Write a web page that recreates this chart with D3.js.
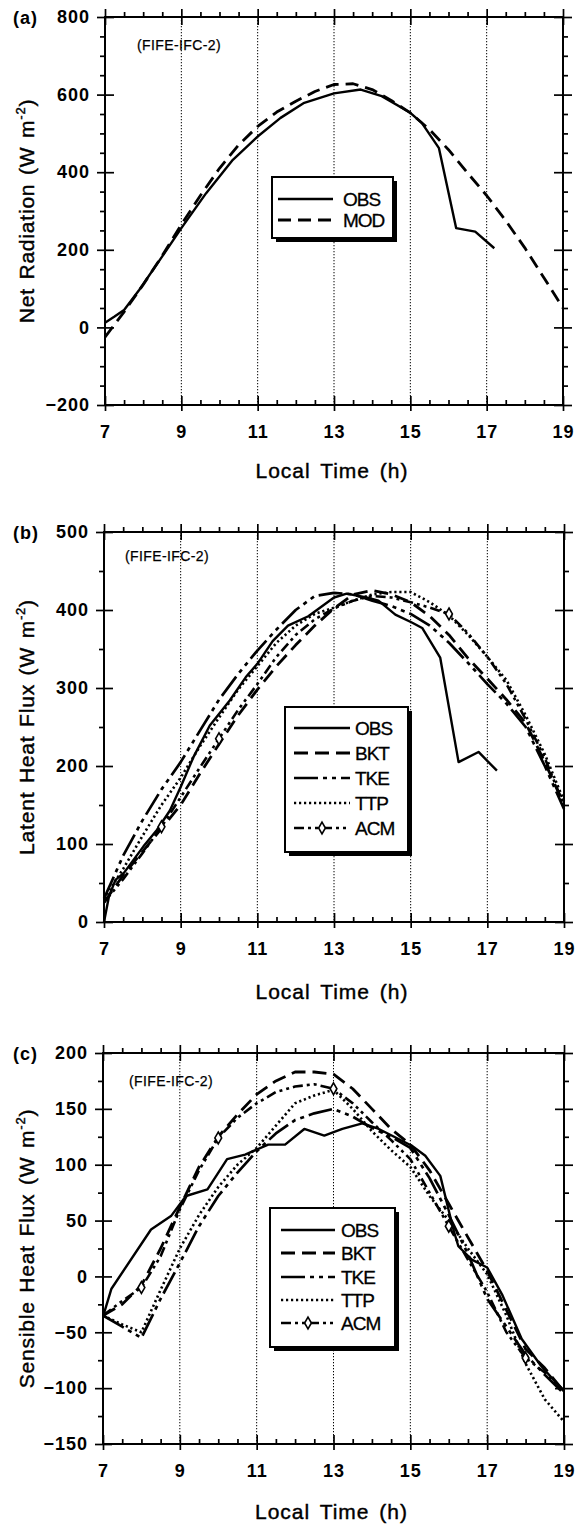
<!DOCTYPE html>
<html>
<head>
<meta charset="utf-8">
<script src="https://cdn.jsdelivr.net/npm/d3@7"></script>
<style>
  body { margin: 0; background: #fff; }
  text { font-family: "Liberation Sans", Arial, Helvetica, sans-serif; fill: #000; }
</style>
</head>
<body>
<svg id="fig" width="576" height="1524"></svg>
<script>
// ---- data ----
const halfHours = [7, 7.5, 8, 8.5, 9, 9.5, 10, 10.5, 11, 11.5, 12, 12.5, 13, 13.5, 14, 14.5, 15, 15.5, 16, 16.5, 17, 17.5, 18, 18.5, 19];
const hourTicks = [7, 9, 11, 13, 15, 17, 19];
const gridHours = [9, 11, 13, 15, 17];

// (a) net radiation
const netObsHours = [7, 7.25, 7.5, 7.9, 8.5, 9, 9.65, 10.35, 11, 11.6, 12.2, 13, 13.7, 14.25, 15, 15.3, 15.75, 16.2, 16.7, 17.2];
const netObs = [12, 28, 45, 97, 183, 256, 346, 432, 492, 540, 578, 603, 613, 596, 553, 527, 462, 256, 247, 204];
const netMod = [-25, 40, 110, 185, 265, 340, 410, 470, 518, 555, 583, 608, 626, 628, 613, 585, 553, 510, 458, 398, 340, 275, 205, 128, 50];

// (b) latent heat flux
const latObsHours = [7, 7.13, 7.3, 7.52, 8.03, 8.38, 8.72, 9, 9.33, 9.76, 10.28, 10.7, 11, 11.4, 11.8, 12.33, 13, 13.33, 13.85, 14.16, 14.6, 15.03, 15.3, 15.77, 16.25, 16.77, 17.25];
const latObs = [0, 33, 54, 63, 97, 118, 143, 173, 211, 252, 284, 314, 331, 360, 380, 392, 416, 421, 416, 412, 394, 384, 377, 339, 205, 218, 194];
const latBkt = [25, 60, 90, 120, 150, 190, 228, 265, 298, 328, 355, 380, 402, 420, 425, 420, 410, 392, 368, 338, 312, 285, 255, 205, 150];
const latTke = [30, 85, 130, 170, 205, 245, 285, 318, 348, 375, 400, 418, 422, 420, 412, 405, 395, 380, 358, 332, 305, 280, 250, 200, 145];
const latTtp = [30, 68, 110, 150, 185, 225, 262, 298, 328, 358, 380, 395, 403, 412, 420, 423, 423, 410, 393, 368, 340, 310, 265, 215, 155];
const latAcm = [25, 55, 88, 122, 160, 198, 235, 272, 305, 340, 368, 388, 402, 412, 418, 416, 410, 403, 395, 370, 340, 305, 260, 210, 150];
const latAcmMarks = [8.5, 10, 16];

// (c) sensible heat flux
const sensObsHours = [7, 7.22, 8.25, 8.77, 9.16, 9.72, 10.23, 10.7, 11.3, 11.74, 12.24, 12.76, 13.23, 13.75, 14.18, 15.04, 15.39, 15.78, 16.12, 16.25, 16.6, 17, 17.4, 17.9, 18.4, 19];
const sensObs = [-36, -11, 42, 54, 72, 78, 105, 109, 118, 118, 132, 126, 132, 137, 132, 117, 108, 90, 42, 27, 15, 8, -17, -56, -80, -103];
const sensBkt = [-35, -25, -8, 25, 62, 98, 125, 145, 163, 175, 183, 183, 181, 168, 150, 132, 118, 95, 65, 35, 5, -30, -65, -82, -103];
const sensTke = [-35, -45, -55, -20, 12, 45, 72, 93, 112, 128, 140, 146, 150, 143, 133, 125, 115, 88, 55, 20, -20, -45, -70, -88, -105];
const sensTtp = [-35, -43, -50, -12, 25, 55, 80, 100, 115, 135, 155, 162, 167, 150, 130, 113, 98, 72, 50, 25, 2, -35, -78, -110, -130];
const sensAcm = [-35, -22, -10, 18, 60, 95, 124, 142, 155, 165, 170, 172, 168, 155, 138, 122, 105, 75, 45, 15, -14, -50, -73, -86, -102];
const sensAcmMarks = [8, 10, 13, 16, 18];

// ---- line styles ----
const STYLE = {
  OBS: { dash: null, width: 2.4 },
  MOD: { dash: "13 7", width: 2.8 },
  BKT: { dash: "14 7", width: 2.8 },
  TKE: { dash: "24 5 4 5 4 5", width: 2.7 },
  TTP: { dash: "2.2 2.8", width: 2.6 },
  ACM: { dash: "10 4 3 4 3 4", width: 2.6 }
};

const zip = (hs, vs) => hs.map((h, i) => [h, vs[i]]);

const panels = [
  {
    tag: "(a)", yTitle: "Net Radiation", xRange: [105, 563], yRange: [405, 17],
    yDomain: [-200, 800], yStep: 200, yMinor: 50,
    titleBase: 478, fifeX: 137, fifeY: 50,
    series: [
      { name: "OBS", pts: zip(netObsHours, netObs) },
      { name: "MOD", pts: zip(halfHours, netMod) }
    ],
    legend: { x0: 272, x1: 393, y0: 177, y1: 238, rows: [199, 220], lx0: 278, lx1: 333, tx: 343 }
  },
  {
    tag: "(b)", yTitle: "Latent Heat Flux", xRange: [104, 564], yRange: [922, 532],
    yDomain: [0, 500], yStep: 100, yMinor: 50,
    titleBase: 999, fifeX: 125, fifeY: 561,
    series: [
      { name: "OBS", pts: zip(latObsHours, latObs) },
      { name: "BKT", pts: zip(halfHours, latBkt) },
      { name: "TKE", pts: zip(halfHours, latTke) },
      { name: "TTP", pts: zip(halfHours, latTtp) },
      { name: "ACM", pts: zip(halfHours, latAcm), marks: latAcmMarks }
    ],
    legend: { x0: 285, x1: 408, y0: 707, y1: 852, rows: [728, 753, 778, 803, 828], lx0: 294, lx1: 350, tx: 355 }
  },
  {
    tag: "(c)", yTitle: "Sensible Heat Flux", xRange: [103, 564], yRange: [1444, 1053],
    yDomain: [-150, 200], yStep: 50, yMinor: 25,
    titleBase: 1519, fifeX: 129, fifeY: 1086,
    series: [
      { name: "OBS", pts: zip(sensObsHours, sensObs) },
      { name: "BKT", pts: zip(halfHours, sensBkt) },
      { name: "TKE", pts: zip(halfHours, sensTke) },
      { name: "TTP", pts: zip(halfHours, sensTtp) },
      { name: "ACM", pts: zip(halfHours, sensAcm), marks: sensAcmMarks }
    ],
    legend: { x0: 270, x1: 395, y0: 1208, y1: 1347, rows: [1230, 1253, 1277, 1300, 1323], lx0: 281, lx1: 335, tx: 341 }
  }
];

const svg = d3.select("#fig");

function styleAxis(sel, withText) {
  sel.select(".domain").remove();
  sel.selectAll(".tick line").attr("stroke", "#000").attr("stroke-width", 1.7);
  if (!withText) sel.selectAll(".tick text").remove();
  else sel.selectAll(".tick text")
    .style("font-size", "18px").style("font-weight", "bold")
    .style("letter-spacing", "1px").attr("fill", "#000");
}

function drawPanel(p) {
  const g = svg.append("g");
  const x = d3.scaleLinear().domain([7, 19]).range(p.xRange);
  const y = d3.scaleLinear().domain(p.yDomain).range(p.yRange);
  const [x0, x1] = p.xRange;
  const [yb, yt] = p.yRange;

  // dotted vertical guides
  g.selectAll("line.grid").data(gridHours).join("line")
    .attr("class", "grid")
    .attr("x1", d => x(d)).attr("x2", d => x(d))
    .attr("y1", yt).attr("y2", yb)
    .attr("stroke", "#000").attr("stroke-width", 1)
    .attr("stroke-dasharray", "1.3 1.7");

  const yMajor = d3.range(p.yDomain[0], p.yDomain[1] + 0.001, p.yStep);
  const yMinor = d3.range(p.yDomain[0], p.yDomain[1] + 0.001, p.yMinor).filter(v => !yMajor.includes(v));
  const xMinor = halfHours.filter(h => !hourTicks.includes(h));

  // left axis (labels + ticks crossing the frame)
  g.append("g").attr("transform", `translate(${x0},0)`)
    .call(d3.axisLeft(y).tickValues(yMajor).tickSize(8).tickPadding(7).tickFormat(d3.format("d")))
    .call(s => styleAxis(s, true));
  g.append("g").attr("transform", `translate(${x0},0)`)
    .call(d3.axisRight(y).tickValues(yMajor).tickSize(9)).call(s => styleAxis(s, false));
  g.append("g").attr("transform", `translate(${x0},0)`)
    .call(d3.axisLeft(y).tickValues(yMinor).tickSize(5)).call(s => styleAxis(s, false));
  // right axis
  g.append("g").attr("transform", `translate(${x1},0)`)
    .call(d3.axisRight(y).tickValues(yMajor).tickSize(9)).call(s => styleAxis(s, false));
  g.append("g").attr("transform", `translate(${x1},0)`)
    .call(d3.axisLeft(y).tickValues(yMajor).tickSize(9)).call(s => styleAxis(s, false));
  g.append("g").attr("transform", `translate(${x1},0)`)
    .call(d3.axisRight(y).tickValues(yMinor).tickSize(5)).call(s => styleAxis(s, false));

  // bottom axis
  const bottom = g.append("g").attr("transform", `translate(0,${yb})`)
    .call(d3.axisBottom(x).tickValues(hourTicks).tickSize(6).tickPadding(14).tickFormat(d3.format("d")));
  styleAxis(bottom, true);
  g.append("g").attr("transform", `translate(0,${yb})`)
    .call(d3.axisTop(x).tickValues(hourTicks).tickSize(9)).call(s => styleAxis(s, false));
  g.append("g").attr("transform", `translate(0,${yb})`)
    .call(d3.axisTop(x).tickValues(xMinor).tickSize(5)).call(s => styleAxis(s, false));
  // top axis
  g.append("g").attr("transform", `translate(0,${yt})`)
    .call(d3.axisTop(x).tickValues(hourTicks).tickSize(8)).call(s => styleAxis(s, false));
  g.append("g").attr("transform", `translate(0,${yt})`)
    .call(d3.axisBottom(x).tickValues(hourTicks).tickSize(8)).call(s => styleAxis(s, false));
  g.append("g").attr("transform", `translate(0,${yt})`)
    .call(d3.axisTop(x).tickValues(xMinor).tickSize(5)).call(s => styleAxis(s, false));

  // frame
  g.append("rect").attr("x", x0).attr("y", yt).attr("width", x1 - x0).attr("height", yb - yt)
    .attr("fill", "none").attr("stroke", "#000").attr("stroke-width", 2);

  // series
  const line = d3.line().x(d => x(d[0])).y(d => y(d[1]));
  p.series.forEach(s => {
    const st = STYLE[s.name];
    g.append("path").datum(s.pts)
      .attr("d", line)
      .attr("fill", "none").attr("stroke", "#000")
      .attr("stroke-width", st.width)
      .attr("stroke-linejoin", "round")
      .attr("stroke-dasharray", st.dash);
    if (s.marks) {
      const lookup = new Map(s.pts.map(d => [d[0], d[1]]));
      g.selectAll(null).data(s.marks).join("path")
        .attr("d", d3.symbol(d3.symbolDiamond, 40))
        .attr("transform", d => `translate(${x(d)},${y(lookup.get(d))})`)
        .attr("fill", "#fff").attr("stroke", "#000").attr("stroke-width", 1.6);
    }
  });

  // panel tag and campaign label
  g.append("text").attr("x", 13).attr("y", yt + 7).text(p.tag)
    .style("font-size", "18px").style("font-weight", "bold").style("letter-spacing", "1px");
  g.append("text").attr("x", p.fifeX).attr("y", p.fifeY).text("(FIFE-IFC-2)")
    .style("font-size", "14px").style("letter-spacing", "0.4px")
    .attr("stroke", "#000").attr("stroke-width", 0.25);

  // axis titles
  g.append("text").attr("x", (x0 + x1) / 2 - 2).attr("y", p.titleBase)
    .attr("text-anchor", "middle").text("Local Time (h)")
    .attr("stroke", "#000").attr("stroke-width", 0.4)
    .style("font-size", "21px").style("letter-spacing", "1px").style("word-spacing", "3px");
  const yt2 = g.append("text")
    .attr("transform", `translate(34,${(yb + yt) / 2}) rotate(-90)`)
    .attr("text-anchor", "middle")
    .attr("stroke", "#000").attr("stroke-width", 0.4)
    .style("font-size", "21px").style("letter-spacing", "0.8px").style("word-spacing", "2px");
  yt2.append("tspan").text(p.yTitle + " (W m");
  yt2.append("tspan").text("-2").attr("dy", -9).style("font-size", "13px");
  yt2.append("tspan").text(")").attr("dy", 9);

  // legend box with drop shadow
  const L = p.legend;
  g.append("rect").attr("x", L.x0 + 4).attr("y", L.y0 + 4)
    .attr("width", L.x1 - L.x0).attr("height", L.y1 - L.y0).attr("fill", "#000");
  g.append("rect").attr("x", L.x0).attr("y", L.y0)
    .attr("width", L.x1 - L.x0).attr("height", L.y1 - L.y0)
    .attr("fill", "#fff").attr("stroke", "#000").attr("stroke-width", 2);
  p.series.forEach((s, i) => {
    const st = STYLE[s.name];
    const ry = L.rows[i];
    g.append("line").attr("x1", L.lx0).attr("x2", L.lx1).attr("y1", ry).attr("y2", ry)
      .attr("stroke", "#000").attr("stroke-width", st.width).attr("stroke-dasharray", st.dash);
    if (s.marks) {
      g.append("path").attr("d", d3.symbol(d3.symbolDiamond, 40))
        .attr("transform", `translate(${(L.lx0 + L.lx1) / 2},${ry})`)
        .attr("fill", "#fff").attr("stroke", "#000").attr("stroke-width", 1.6);
    }
    g.append("text").attr("x", L.tx).attr("y", ry).attr("dy", "0.36em").text(s.name)
      .attr("stroke", "#000").attr("stroke-width", 0.3)
      .style("font-size", "19px").style("letter-spacing", "-1px");
  });
}

panels.forEach(drawPanel);
</script>
</body>
</html>
